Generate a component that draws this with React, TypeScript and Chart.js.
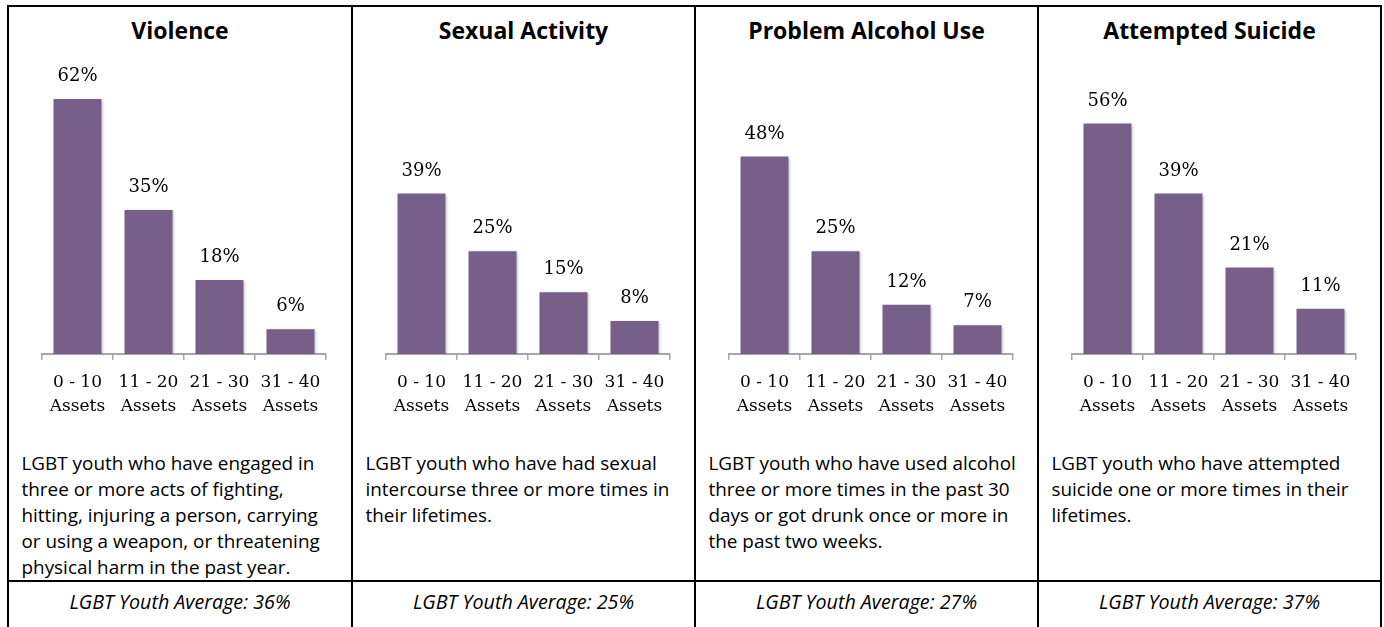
import React, { useEffect, useRef } from "react";
import { Chart, registerables } from "chart.js";

Chart.register(...registerables);

// ---------- data ----------
const categories: string[][] = [
  ["0 - 10", "Assets"],
  ["11 - 20", "Assets"],
  ["21 - 30", "Assets"],
  ["31 - 40", "Assets"],
];
const titles = ["Violence", "Sexual Activity", "Problem Alcohol Use", "Attempted Suicide"];
const violence = [62, 35, 18, 6];
const sexualActivity = [39, 25, 15, 8];
const alcoholUse = [48, 25, 12, 7];
const attemptedSuicide = [56, 39, 21, 11];
const averages = [36, 25, 27, 37];
const descriptions: string[][] = [
  [
    "LGBT youth who have engaged in",
    "three or more acts of fighting,",
    "hitting, injuring a person, carrying",
    "or using a weapon, or threatening",
    "physical harm in the past year.",
  ],
  ["LGBT youth who have had sexual", "intercourse three or more times in", "their lifetimes."],
  [
    "LGBT youth who have used alcohol",
    "three or more times in the past 30",
    "days or got drunk once or more in",
    "the past two weeks.",
  ],
  ["LGBT youth who have attempted", "suicide one or more times in their", "lifetimes."],
];
const seriesList = [violence, sexualActivity, alcoholUse, attemptedSuicide];

// ---------- layout ----------
const panelLefts = [8, 352, 695, 1038];
const rightEdge = 1381;
const BAR_COLOR = "#76608A";
const AXIS_COLOR = "#a6a6a6";
const SERIF = "'DejaVu Serif', serif";
const SANS = "'Open Sans', sans-serif";

const valueLabels = {
  id: "valueLabels",
  afterDatasetsDraw(chart: any) {
    const ctx = chart.ctx;
    const meta = chart.getDatasetMeta(0);
    const data = chart.data.datasets[0].data as number[];
    ctx.save();
    ctx.font = `18px ${SERIF}`;
    ctx.fillStyle = "#000";
    ctx.textAlign = "center";
    ctx.textBaseline = "alphabetic";
    meta.data.forEach((bar: any, i: number) => {
      ctx.fillText(`${data[i]}%`, bar.x, bar.y - 18);
    });
    ctx.restore();
  },
};

const barShadow = {
  id: "barShadow",
  beforeDatasetDraw(chart: any) {
    const ctx = chart.ctx;
    ctx.save();
    ctx.shadowColor = "rgba(0,0,0,0.25)";
    ctx.shadowBlur = 3;
    ctx.shadowOffsetX = 1;
    ctx.shadowOffsetY = 1;
  },
  afterDatasetDraw(chart: any) {
    chart.ctx.restore();
  },
};

function BarPanel({ values, left, width }: { values: number[]; left: number; width: number }) {
  const ref = useRef<HTMLCanvasElement | null>(null);
  useEffect(() => {
    if (!ref.current) return;
    const chart = new Chart(ref.current, {
      type: "bar",
      data: {
        labels: categories,
        datasets: [
          {
            data: values,
            backgroundColor: BAR_COLOR,
            borderWidth: 0,
            barPercentage: 48 / 71,
            categoryPercentage: 1,
          },
        ],
      },
      options: {
        responsive: false,
        animation: false,
        layout: { padding: { left: 32, right: width - 2 - 316, top: 26, bottom: 0 } },
        plugins: { legend: { display: false }, tooltip: { enabled: false } },
        scales: {
          x: {
            grid: {
              display: true,
              drawOnChartArea: false,
              drawTicks: true,
              tickLength: 6,
              color: AXIS_COLOR,
              lineWidth: 1.5,
              offset: true,
            },
            border: { display: true, color: AXIS_COLOR, width: 2 },
            ticks: {
              color: "#000",
              font: { family: SERIF, size: 17, lineHeight: "24px" } as any,
              padding: 11,
              maxRotation: 0,
              autoSkip: false,
            },
            afterFit: (s: any) => {
              s.height = 86;
            },
          },
          y: { display: false, min: 0, max: 70 },
        },
      },
      plugins: [barShadow, valueLabels],
    });
    return () => chart.destroy();
  }, [values, width]);
  return (
    <canvas
      ref={ref}
      width={width - 2}
      height={400}
      style={{ position: "absolute", left: left + 2, top: 40, width: width - 2, height: 400 }}
    />
  );
}

export default function App() {
  const edges = [...panelLefts, rightEdge];
  return (
    <div style={{ position: "absolute", left: 0, top: 0, width: 1384, height: 627, overflow: "hidden", background: "#fff" }}>
      {panelLefts.map((p, i) => {
        const w = edges[i + 1] - p;
        return (
          <React.Fragment key={i}>
            <div
              style={{
                position: "absolute",
                left: p,
                top: 15,
                width: w,
                height: 30,
                lineHeight: "30px",
                textAlign: "center",
                fontFamily: SANS,
                fontWeight: 700,
                fontSize: 23,
                color: "#000",
              }}
            >
              {titles[i]}
            </div>
            <BarPanel values={seriesList[i]} left={p} width={w} />
            <div
              style={{
                position: "absolute",
                left: p + 13.5,
                top: 449.5,
                fontFamily: SANS,
                fontSize: 18.9,
                lineHeight: "26px",
                whiteSpace: "pre",
                color: "#000",
              }}
            >
              {descriptions[i].join("\n")}
            </div>
            <div
              style={{
                position: "absolute",
                left: p,
                top: 588.5,
                width: w,
                textAlign: "center",
                fontFamily: SANS,
                fontStyle: "italic",
                fontSize: 19.7,
                lineHeight: "26px",
                color: "#000",
              }}
            >
              {`LGBT Youth Average: ${averages[i]}%`}
            </div>
          </React.Fragment>
        );
      })}
      {/* borders */}
      <div style={{ position: "absolute", left: 7, top: 5, width: rightEdge - 7 + 1, height: 2, background: "#000" }} />
      <div style={{ position: "absolute", left: 7, top: 579.5, width: rightEdge - 7 + 1, height: 2, background: "#000" }} />
      {edges.map((x, i) => (
        <div key={i} style={{ position: "absolute", left: x - 1, top: 5, width: 2, height: 640, background: "#000" }} />
      ))}
    </div>
  );
}
